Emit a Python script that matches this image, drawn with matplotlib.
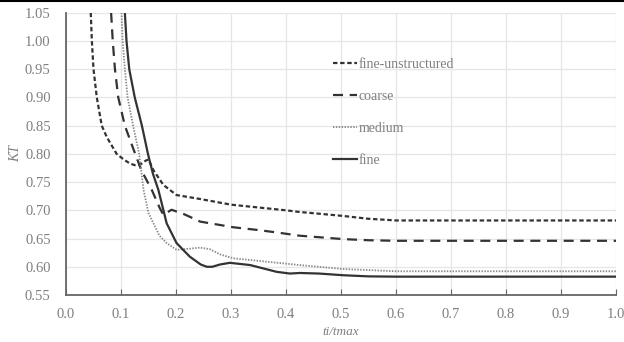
import matplotlib
matplotlib.use("Agg")
import matplotlib.pyplot as plt
from matplotlib.lines import Line2D

plt.rcParams['font.family'] = ['Liberation Serif', 'DejaVu Serif']

# fine-unstructured (short dashes)
fu_x = [0.045, 0.047, 0.050, 0.056, 0.065, 0.074, 0.092, 0.105, 0.116, 0.125, 0.135, 0.145, 0.150, 0.159,
        0.177, 0.201, 0.244, 0.30, 0.35, 0.40, 0.425, 0.46, 0.504, 0.55, 0.601, 0.7, 0.8, 0.9, 1.0]
fu_y = [1.05, 1.00, 0.95, 0.90, 0.85, 0.83, 0.80, 0.79, 0.783, 0.78, 0.781, 0.788, 0.79, 0.771,
        0.745, 0.727, 0.720, 0.710, 0.705, 0.700, 0.697, 0.694, 0.690, 0.685, 0.682, 0.682, 0.682, 0.682, 0.682]

# coarse (long dashes)
co_x = [0.082, 0.085, 0.089, 0.095, 0.107, 0.122, 0.137, 0.156, 0.170, 0.177, 0.192, 0.215, 0.244, 0.304,
        0.35, 0.389, 0.425, 0.504, 0.55, 0.601, 0.7, 0.8, 0.9, 1.0]
co_y = [1.05, 1.00, 0.95, 0.90, 0.85, 0.81, 0.771, 0.736, 0.705, 0.692, 0.701, 0.693, 0.680, 0.670,
        0.665, 0.660, 0.655, 0.649, 0.647, 0.646, 0.646, 0.646, 0.646, 0.646]

# medium (dotted)
me_x = [0.101, 0.103, 0.107, 0.112, 0.122, 0.133, 0.141, 0.150, 0.159, 0.170, 0.183, 0.201, 0.225, 0.244,
        0.262, 0.28, 0.304, 0.365, 0.425, 0.504, 0.601, 0.7, 0.8, 0.9, 1.0]
me_y = [1.05, 1.00, 0.95, 0.90, 0.85, 0.80, 0.736, 0.695, 0.677, 0.655, 0.642, 0.630, 0.632, 0.634,
        0.631, 0.622, 0.615, 0.609, 0.603, 0.596, 0.592, 0.592, 0.592, 0.592, 0.592]

# fine (solid)
fi_x = [0.107, 0.110, 0.115, 0.125, 0.138, 0.149, 0.158, 0.168, 0.183, 0.201, 0.225, 0.245, 0.256,
        0.266, 0.280, 0.298, 0.335, 0.383, 0.407, 0.425, 0.46, 0.504, 0.55, 0.601, 0.7, 0.8, 0.9, 1.0]
fi_y = [1.05, 1.00, 0.95, 0.90, 0.85, 0.80, 0.765, 0.736, 0.677, 0.642, 0.618, 0.604, 0.600,
        0.600, 0.604, 0.607, 0.603, 0.591, 0.588, 0.589, 0.588, 0.585, 0.583, 0.5825, 0.5825, 0.5825, 0.5825, 0.5825]

labels = ["fine-unstructured", "coarse", "medium", "fine"]
x_ticks = [0.0, 0.1, 0.2, 0.3, 0.4, 0.5, 0.6, 0.7, 0.8, 0.9, 1.0]
y_ticks = [0.55, 0.60, 0.65, 0.70, 0.75, 0.80, 0.85, 0.90, 0.95, 1.00, 1.05]

fig = plt.figure(figsize=(6.24, 3.42), dpi=100)
ax = fig.add_axes([66/624, 1-295/342, 550/624, (295-12.7)/342])

styles = [
    dict(color='#333333', lw=1.6, linestyle=(0, (2.0, 1.2))),
    dict(color='#333333', lw=1.6, linestyle=(0, (4.5, 3.0))),
    dict(color='#888888', lw=1.3, linestyle=(0, (0.8, 0.8))),
    dict(color='#333333', lw=1.6, linestyle='-'),
]
series = [(fu_x, fu_y), (co_x, co_y), (me_x, me_y), (fi_x, fi_y)]
for (xs, ys), st in zip(series, styles):
    ax.plot(xs, ys, clip_on=True, **st)

ax.set_xlim(0, 1.0)
ax.set_ylim(0.55, 1.05)
ax.set_xticks(x_ticks)
ax.set_yticks(y_ticks)
ax.set_xticklabels([f"{v:.1f}" for v in x_ticks])
ax.set_yticklabels([f"{v:.2f}" for v in y_ticks])
ax.grid(True, color='#e6e6e6', lw=0.9)
ax.set_axisbelow(True)
for s in ['top', 'right']:
    ax.spines[s].set_visible(False)
for s in ['left', 'bottom']:
    ax.spines[s].set_color('#666666')
    ax.spines[s].set_linewidth(1.3)
ax.tick_params(axis='x', direction='in', length=4, color='#666666', labelsize=10.5,
               labelcolor='#7f7f7f', pad=9)
ax.tick_params(axis='y', length=0, labelsize=10.5, labelcolor='#7f7f7f', pad=11)

ax.set_xlabel("ti/tmax", style='italic', color='#7f7f7f', fontsize=9.5, labelpad=4)
ax.set_ylabel("KT", style='italic', color='#7f7f7f', fontsize=10, labelpad=2)

handles = [Line2D([0], [0], **st) for st in styles]
leg = ax.legend(handles, labels, loc='upper left', bbox_to_anchor=(0.462, 0.885),
                frameon=False, fontsize=10, labelspacing=1.38, handlelength=1.75,
                handletextpad=0.15, labelcolor='#7f7f7f')

fig.add_artist(Line2D([0, 1], [0.997, 0.997], color='black', lw=1.5, transform=fig.transFigure))

fig.savefig("out.png", dpi=100)
